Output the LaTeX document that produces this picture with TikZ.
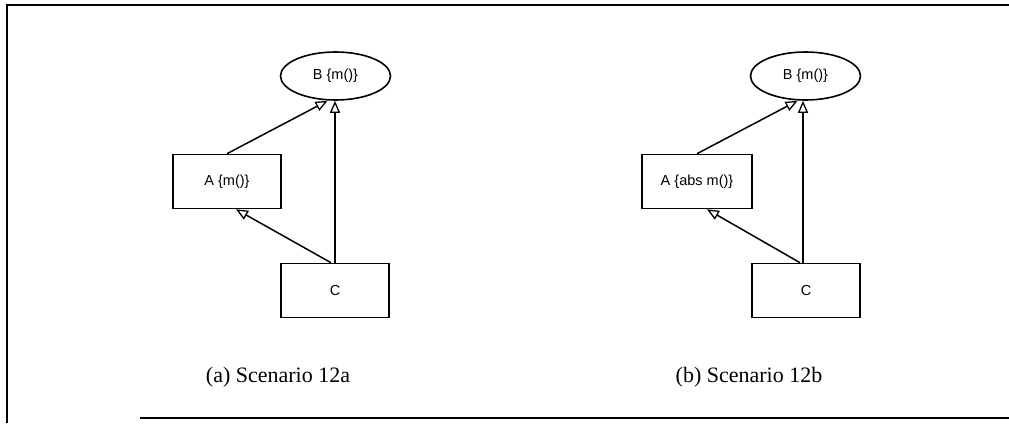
\documentclass[tikz,border=0pt]{standalone}
\usepackage{fontspec}
\setmainfont{Liberation Serif}
\newfontfamily\boxfont{Liberation Sans}
\usetikzlibrary{arrows.meta,calc,shapes.geometric}
\begin{document}
\begin{tikzpicture}[x=1pt,y=-1pt,
  cls/.style={draw,line width=1.6pt,minimum width=108pt,minimum height=54pt,inner sep=0pt,font=\boxfont\fontsize{14.5}{16}\selectfont},
  topcls/.style={draw,ellipse,line width=1.6pt,minimum width=110pt,minimum height=48pt,inner sep=0pt,font=\boxfont\fontsize{14.5}{16}\selectfont},
  inh/.style={line width=1.5pt,-{Triangle[open,length=12pt,width=10pt,line width=1.3pt]}},
  captext/.style={font=\fontsize{22}{24}\selectfont},
  framel/.style={line width=1.8pt}]
\useasboundingbox (0,0) rectangle (1009,423);
% frame
\coordinate (f1) at (7,423);
\coordinate (f2) at (7,5);
\coordinate (f3) at (1009,5);
\coordinate (f4) at (140,418);
\coordinate (f5) at (1009,418);
\draw[framel] (f1) -- (f2) -- (f3);
\draw[line width=1.3pt] (f4) -- (f5);
% (a)
\node[topcls] (Ba) at (335.5,76) {B {\{m()\}}};
\node[cls] (Aa) at (227,181.5) {A {\{m()\}}};
\node[cls] (Ca) at (335,290.5) {C};
\draw[inh] (Aa.north) -- ([xshift=-8pt]Ba.south);
\draw[inh] (Ca.north) -- (Ca.north |- Ba.south);
\draw[inh] ([xshift=-4pt]Ca.north) -- ([xshift=9pt]Aa.south);
\node[captext] (capa) at (278,377) {(a) Scenario 12a};
% (b)
\node[topcls] (Bb) at (805.5,76) {B {\{m()\}}};
\node[cls,minimum width=110pt] (Ab) at (697,181.5) {A {\{abs m()\}}};
\node[cls] (Cb) at (806,290.5) {C};
\draw[inh] (Ab.north) -- ([xshift=-8pt]Bb.south);
\draw[inh] ([xshift=-3pt]Cb.north) -- ([xshift=-3pt]Cb.north |- Bb.south);
\draw[inh] ([xshift=-6pt]Cb.north) -- ([xshift=10pt]Ab.south);
\node[captext] (capb) at (749,377) {(b) Scenario 12b};
\end{tikzpicture}
\end{document}
